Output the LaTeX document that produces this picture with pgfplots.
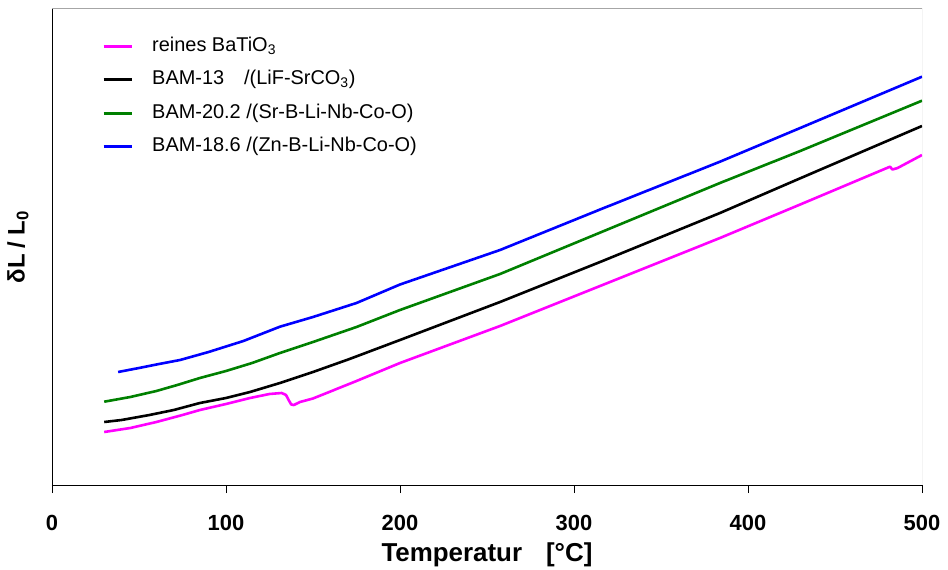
\documentclass[border=0pt]{standalone}
\usepackage{pgfplots}
\pgfplotsset{compat=1.18}
\usepackage{fontspec}
\setmainfont{Liberation Sans}
\definecolor{cMag}{HTML}{FF00FF}
\definecolor{cGreen}{HTML}{008000}
\definecolor{cBlue}{HTML}{0000FF}
\begin{document}
\begin{tikzpicture}
\begin{axis}[
  scale only axis, width=870bp, height=476bp,
  xmin=0, xmax=500, ymin=0, ymax=476,
  axis x line*=bottom, axis y line*=left,
  axis line style={black, line width=0.8bp, -},
  xtick={0,100,200,300,400,500}, ytick=\empty, minor xtick={},
  tick align=outside, major tick length=8bp,
  tick style={black, line width=0.8bp},
  /pgf/number format/assume math mode=true,
  xticklabel style={font=\fontsize{22}{26}\selectfont\bfseries, anchor=base, yshift=-37bp},
  xlabel={Temperatur\hspace{24bp}[°C]},
  xlabel style={font=\fontsize{26}{30}\selectfont\bfseries, at={(rel axis cs:0.5,0)}, anchor=base, yshift=-76bp},
  ylabel={δL\hspace{6bp}/\hspace{6bp}L\textsubscript{0}},
  ylabel style={font=\fontsize{24}{28}\selectfont\bfseries, at={(rel axis cs:0,0.5)}, anchor=center, yshift=34bp},
  legend style={at={(rel axis cs:0.0575,0.941)}, anchor=north west, draw=none, fill=none, inner sep=0pt,
    font=\fontsize{20}{24}\selectfont, row sep=15.5bp, column sep=19bp,
    nodes={inner sep=0pt, text height=14bp, text depth=4bp}},
  legend cell align=left,
  legend image code/.code={\draw[#1, line width=3bp] (0bp,0bp) -- (28bp,0bp);},
  every axis plot/.append style={line width=2.6bp, line join=round},
]
\draw[gray!70, line width=1bp] (rel axis cs:0,1) -- (rel axis cs:1,1) -- (rel axis cs:1,0);
% reines BaTiO3
\addplot[cMag] coordinates {
(30,53) (45,57) (60,63) (75,70) (85,75) (100,81) (113.8,87) (125,91) (132,92) (134.5,90) (136,85) (137.5,80.5) (139,80) (142.5,83) (150,86.5) (175,104) (200,122) (257.5,159) (315,199) (383.9,247) (430,280.5) (481.6,318.3) (483,315.5) (486,317) (500,330)
};
\addlegendentry{reines BaTiO\textsubscript{3}}
% BAM-13
\addplot[black] coordinates {
(30,63) (40,65) (56,70) (70,75) (85,82) (100,87) (113.8,93) (131,102) (150,113) (171,126) (200,145) (257.5,183) (315,223) (383.9,272) (430,306.7) (500,359)
};
\addlegendentry{BAM-13\hspace{20bp}/(LiF-SrCO\textsubscript{3})}
% BAM-20.2
\addplot[cGreen] coordinates {
(30,83.3) (45,88) (60,94) (72,100) (85,107) (100,114) (115,122) (131,132) (150,143) (175,158) (200,175) (257.5,211) (315,252.4) (383.9,302) (430,334) (500,384.3)
};
\addlegendentry{BAM-20.2 /(Sr-B-Li-Nb-Co-O)}
% BAM-18.6
\addplot[cBlue] coordinates {
(38,113) (50,117) (60,120.5) (73.6,125) (90,133) (110,144) (131,158.3) (150,168) (175,182) (200,200.5) (257.5,235) (315,275.5) (383.9,323.3) (430,357) (500,408.3)
};
\addlegendentry{BAM-18.6 /(Zn-B-Li-Nb-Co-O)}
\end{axis}
\path ([xshift=-52bp,yshift=-85bp]current axis.south west) rectangle ([xshift=26bp,yshift=9bp]current axis.north east);
\end{tikzpicture}
\end{document}
